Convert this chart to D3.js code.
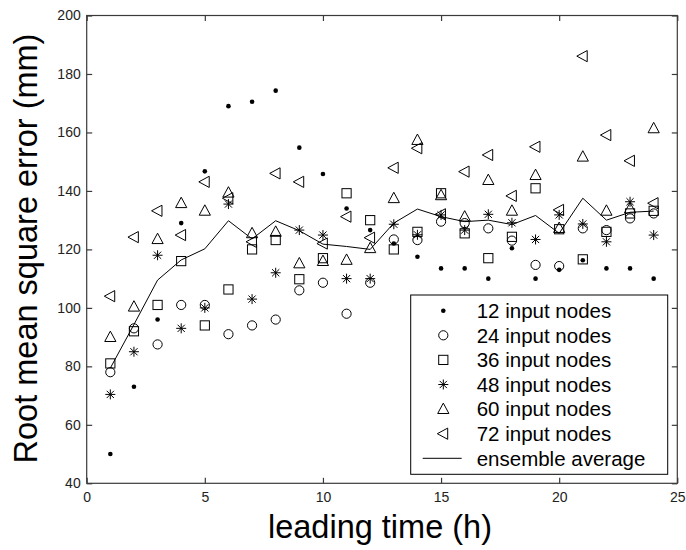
<!DOCTYPE html>
<html><head><meta charset="utf-8">
<script src="https://cdn.jsdelivr.net/npm/d3@7"></script>
<style>html,body{margin:0;padding:0;background:#fff;} svg{display:block;}</style>
</head><body>
<svg id="chart" width="686" height="550"></svg>
<script>
const leadTime = [1,2,3,4,5,6,7,8,9,10,11,12,13,14,15,16,17,18,19,20,21,22,23,24];
const nodes12 = [50,73,96,129,146.7,169,170.5,174.3,154.8,145.8,134,126.6,122,117.5,113.5,113.5,110,120.4,110,113,116.3,113.5,113.5,110];
const nodes24 = [78,93,87.5,101,101,91,94,96,106,108.6,98,108.6,123.4,123.2,129.5,129,127.2,123,114.7,114.3,127.2,126.6,130.6,132.3];
const nodes36 = [81,92,101,116,94,106.3,120,123.2,109.8,117,139.2,130,120,126,139.2,125.5,117,124.3,140.9,126.9,116.6,126,132.3,133.2];
const nodes48 = [70.4,85,118,93,100,135.5,103,112,126.6,124.9,110,110,128.6,125,131.8,126.6,132,129.1,123.4,131.8,128.7,122.6,136.3,124.9];
const nodes60 = [90,100.4,123.5,135.8,133.2,139.4,125.5,126,115.2,116,116.4,120.4,137.5,157.4,138.5,131.2,143.7,133.2,145.4,127.3,151.7,133.2,134,161.4];
const nodes72 = [104,124.2,133.2,124.9,143.1,137.5,122.6,146,143.1,122,131.2,124,147.9,154.6,132,146.6,152.3,138.3,155.1,133.5,186.1,159.1,150.3,135.8];
const ensemble = [79.4,94.3,109.5,116.4,120.2,129.8,123.6,129.8,126.4,121.8,121,120,129,133.8,131.2,129.5,130,128.5,131.6,125.5,137.5,130,132.7,133.1];
const seriesNames = ["12 input nodes","24 input nodes","36 input nodes","48 input nodes","60 input nodes","72 input nodes"];
const seriesShapes = ["dot","circle","square","asterisk","triUp","triLeft"];
const ensembleName = "ensemble average";
const xTicks = [0,5,10,15,20,25];
const yTicks = [40,60,80,100,120,140,160,180,200];
const xDomain = [0,25];
const yDomain = [40,200];
const xTitle = "leading time (h)";
const yTitle = "Root mean square error (mm)";

const series = [nodes12,nodes24,nodes36,nodes48,nodes60,nodes72];

const W = 686, H = 550;
const m = {left:86.7, right:8.7, top:15.5, bottom:66.7};
const svg = d3.select("#chart");
const x = d3.scaleLinear().domain(xDomain).range([m.left, W - m.right]);
const y = d3.scaleLinear().domain(yDomain).range([H - m.bottom, m.top]);
const font = "Arial, 'Liberation Sans', Helvetica, sans-serif";
const axisColor = "#3a3a3a";

function drawMarker(g, shape, cx, cy){
  if(shape==="dot"){
    g.append("circle").attr("cx",cx).attr("cy",cy).attr("r",2.3).attr("fill","#000");
  } else if(shape==="circle"){
    g.append("circle").attr("cx",cx).attr("cy",cy).attr("r",4.6).attr("fill","none").attr("stroke","#000").attr("stroke-width",1);
  } else if(shape==="square"){
    g.append("rect").attr("x",cx-4.6).attr("y",cy-4.6).attr("width",9.2).attr("height",9.2).attr("fill","none").attr("stroke","#000").attr("stroke-width",1);
  } else if(shape==="asterisk"){
    const r=5, d=3.6;
    g.append("path").attr("d",`M${cx-r},${cy}H${cx+r}M${cx},${cy-r}V${cy+r}M${cx-d},${cy-d}L${cx+d},${cy+d}M${cx-d},${cy+d}L${cx+d},${cy-d}`)
      .attr("stroke","#000").attr("stroke-width",1).attr("fill","none");
  } else if(shape==="triUp"){
    g.append("path").attr("d",`M${cx},${cy-6}L${cx+5.6},${cy+4.4}L${cx-5.6},${cy+4.4}Z`)
      .attr("stroke","#000").attr("stroke-width",1).attr("fill","none");
  } else if(shape==="triLeft"){
    g.append("path").attr("d",`M${cx-6},${cy}L${cx+4.4},${cy-5.6}L${cx+4.4},${cy+5.6}Z`)
      .attr("stroke","#000").attr("stroke-width",1).attr("fill","none");
  }
}

// frame
svg.append("rect").attr("x",m.left).attr("y",m.top).attr("width",W-m.left-m.right).attr("height",H-m.top-m.bottom)
  .attr("fill","#fff").attr("stroke",axisColor).attr("stroke-width",1.2);

// axes (inward ticks)
const tickLen = 5.5;
const xAxisB = d3.axisBottom(x).tickValues(xTicks).tickSizeInner(-tickLen).tickSizeOuter(0).tickPadding(9);
const gxb = svg.append("g").attr("transform",`translate(0,${H-m.bottom})`).call(xAxisB);
const xAxisT = d3.axisTop(x).tickValues(xTicks).tickSizeInner(-tickLen).tickSizeOuter(0).tickFormat("");
const gxt = svg.append("g").attr("transform",`translate(0,${m.top})`).call(xAxisT);
const yAxisL = d3.axisLeft(y).tickValues(yTicks).tickSizeInner(-tickLen).tickSizeOuter(0).tickPadding(6);
const gyl = svg.append("g").attr("transform",`translate(${m.left},0)`).call(yAxisL);
const yAxisR = d3.axisRight(y).tickValues(yTicks).tickSizeInner(-tickLen).tickSizeOuter(0).tickFormat("");
const gyr = svg.append("g").attr("transform",`translate(${W-m.right},0)`).call(yAxisR);
[gxb,gxt,gyl,gyr].forEach(g=>{
  g.select(".domain").remove();
  g.selectAll(".tick line").attr("stroke",axisColor).attr("stroke-width",1.2);
  g.selectAll(".tick text").attr("font-family",font).attr("font-size",14).attr("fill","#222");
});
gxb.selectAll(".tick text").attr("dy","0.71em");

// ensemble line
svg.append("path").datum(leadTime.map((t,i)=>[t,ensemble[i]]))
  .attr("d",d3.line().x(d=>x(d[0])).y(d=>y(d[1])))
  .attr("fill","none").attr("stroke","#000").attr("stroke-width",1);

// markers
const gm = svg.append("g");
series.forEach((vals,si)=>{
  vals.forEach((v,i)=>drawMarker(gm, seriesShapes[si], x(leadTime[i]), y(v)));
});

// legend
const lg = svg.append("g");
const lx0=410.7, ly0=295, lw=257, lh=179.3;
lg.append("rect").attr("x",lx0).attr("y",ly0).attr("width",lw).attr("height",lh).attr("fill","#fff").attr("stroke","#000").attr("stroke-width",1);
const rowY = d3.scaleLinear().domain([0,6]).range([310.7,458.3]);
seriesNames.forEach((n,i)=>{
  drawMarker(lg, seriesShapes[i], 443.3, rowY(i));
  lg.append("text").attr("x",476.7).attr("y",rowY(i)).attr("dy","0.36em").attr("font-family",font).attr("font-size",20.5).attr("fill","#000").text(n);
});
lg.append("line").attr("x1",422.7).attr("x2",461.7).attr("y1",rowY(6)).attr("y2",rowY(6)).attr("stroke","#000").attr("stroke-width",1);
lg.append("text").attr("x",476.7).attr("y",rowY(6)).attr("dy","0.36em").attr("font-family",font).attr("font-size",20.5).attr("fill","#000").text(ensembleName);

// titles
svg.append("text").attr("x",380).attr("y",538).attr("text-anchor","middle")
  .attr("font-family",font).attr("font-size",32.5).attr("fill","#000").text(xTitle);
svg.append("text").attr("transform",`translate(37,${248.5}) rotate(-90)`).attr("text-anchor","middle")
  .attr("font-family",font).attr("font-size",32.5).attr("fill","#000").text(yTitle);
</script>
</body></html>
